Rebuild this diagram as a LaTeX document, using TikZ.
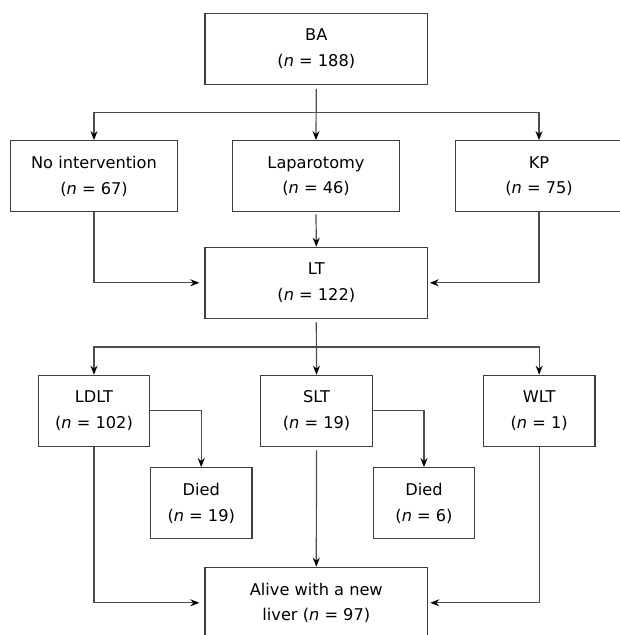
\documentclass[tikz,border=0pt]{standalone}
\usepackage{fontspec}
\setmainfont{DejaVu Sans}
\usepackage{tikz}
\usetikzlibrary{arrows.meta}

\begin{document}
\begin{tikzpicture}[x=1pt, y=1pt,
	box/.style={draw=black!75, line width=1.2pt, align=center, inner sep=0pt,
		minimum height=71pt, font=\fontsize{16.2pt}{25.5pt}\selectfont},
	conn/.style={draw=black!70, line width=1.2pt, ->, >={Stealth[length=9pt, width=7pt, black]}}]
	\useasboundingbox (0,0) rectangle (620,635); %page
	%
	% boxes -- top level
	\node[box, minimum width=222.7pt] (ba) at (316.3, 586.3) {BA\\(\textit{n} = 188)};
	\node[box, minimum width=166.6pt] (noint) at (94, 458.8) {No intervention\\(\textit{n} = 67)};
	\node[box, minimum width=166.6pt] (lap) at (316, 458.8) {Laparotomy\\(\textit{n} = 46)};
	\node[box, minimum width=166.6pt] (kp) at (539, 458.8) {KP\\(\textit{n} = 75)};
	\node[box, minimum width=222.7pt] (lt) at (316.3, 352.2) {LT\\(\textit{n} = 122)};
	%
	% boxes -- transplant types
	\node[box, minimum width=111.4pt] (ldlt) at (94, 224.2) {LDLT\\(\textit{n} = 102)};
	\node[box, minimum width=111.6pt] (slt) at (316.5, 224.2) {SLT\\(\textit{n} = 19)};
	\node[box, minimum width=111.7pt] (wlt) at (539.2, 224.2) {WLT\\(\textit{n} = 1)};
	\node[box, minimum width=101.7pt] (died1) at (201.2, 131.8) {Died\\(\textit{n} = 19)};
	\node[box, minimum width=101.4pt] (died2) at (424, 131.8) {Died\\(\textit{n} = 6)};
	\node[box, minimum width=222.7pt] (alive) at (316.3, 32.2) {Alive with a new\\liver (\textit{n} = 97)};
	%
	% split points
	\coordinate (split1) at (ba.south |- 0, 522.3);
	\coordinate (split2) at (lt.south |- 0, 288);
	%
	% BA -- first treatment
	\draw[conn, shorten <=4pt] (ba.south) -- (lap.north);
	\draw[conn] (split1) -| (noint.north);
	\draw[conn] (split1) -| (kp.north);
	%
	% first treatment -- LT
	\draw[conn, shorten <=2pt] (lap.south) -- (lt.north);
	\draw[conn, shorten >=5pt] (noint.south) |- (lt.west);
	\draw[conn, shorten >=1.5pt] (kp.south) |- (lt.east);
	%
	% LT -- transplant types
	\draw[conn, shorten <=3.5pt] (lt.south) -- (slt.north);
	\draw[conn] (split2) -| (ldlt.north);
	\draw[conn] (split2) -| (wlt.north);
	%
	% deaths
	\draw[conn] (ldlt.east) -| (died1.north);
	\draw[conn] (slt.east) -| (died2.north);
	%
	% survivors
	\draw[conn, shorten <=3.5pt] (slt.south) -- (alive.north);
	\draw[conn, shorten >=5pt] (ldlt.south) |- (alive.west);
	\draw[conn, shorten >=2pt] (wlt.south) |- (alive.east);
\end{tikzpicture}
\end{document}
